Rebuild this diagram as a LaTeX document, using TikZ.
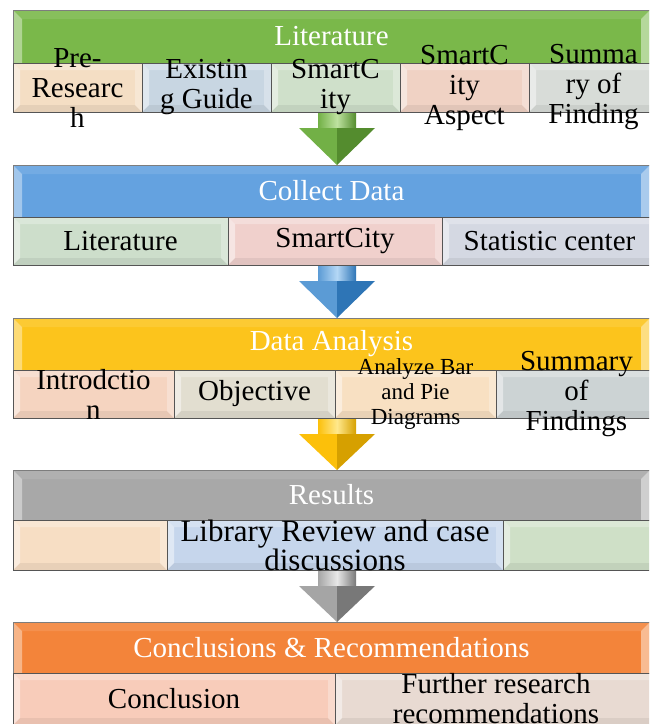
\documentclass[tikz,border=0pt]{standalone}
\usepackage{fontspec}
\setmainfont{Liberation Serif}
\usetikzlibrary{calc}
\pgfdeclarelayer{arrows}
\pgfsetlayers{arrows,main}

% stage bars
\definecolor{barline}{RGB}{125,125,125}
\definecolor{boxline}{RGB}{85,85,85}
\definecolor{litgreen}{RGB}{122,184,74}
\definecolor{colblue}{RGB}{100,162,224}
\definecolor{anayellow}{RGB}{252,196,28}
\definecolor{resgray}{RGB}{168,168,168}
\definecolor{conorange}{RGB}{243,132,58}
% part boxes
\definecolor{ptan}{RGB}{244,222,196}
\definecolor{pbluegray}{RGB}{200,214,226}
\definecolor{pgreen}{RGB}{207,224,202}
\definecolor{ppink}{RGB}{240,210,196}
\definecolor{pgray}{RGB}{216,220,216}
\definecolor{pgreenb}{RGB}{205,222,203}
\definecolor{prose}{RGB}{240,208,204}
\definecolor{plavender}{RGB}{212,216,226}
\definecolor{ppeach}{RGB}{245,212,192}
\definecolor{pbeige}{RGB}{226,222,208}
\definecolor{papricot}{RGB}{248,224,194}
\definecolor{pslate}{RGB}{204,211,212}
\definecolor{psand}{RGB}{247,222,196}
\definecolor{psky}{RGB}{198,214,236}
\definecolor{psage}{RGB}{207,224,199}
\definecolor{psalmon}{RGB}{248,204,186}
\definecolor{ptaupe}{RGB}{232,218,210}
% arrows
\definecolor{gdark}{RGB}{84,140,46}
\definecolor{gmid}{RGB}{114,176,70}
\definecolor{glight}{RGB}{190,226,160}
\definecolor{bdark}{RGB}{46,117,182}
\definecolor{bmid}{RGB}{91,155,213}
\definecolor{blight}{RGB}{180,215,245}
\definecolor{ydark}{RGB}{214,160,0}
\definecolor{ymid}{RGB}{252,192,10}
\definecolor{ylight}{RGB}{255,232,140}
\definecolor{adark}{RGB}{120,120,120}
\definecolor{amid}{RGB}{165,165,165}
\definecolor{alight}{RGB}{232,232,232}

% bevel facets of a part box
\newcommand{\boxfacets}[1]{%
  \coordinate (fsw) at (path picture bounding box.south west);
  \coordinate (fne) at (path picture bounding box.north east);
  \fill[white,opacity=.28] let \p1=(fsw),\p2=(fne) in
    (\x1,\y2) -- (\x2,\y2) -- ({\x2-#1},{\y2-#1}) -- ({\x1+#1},{\y2-#1}) -- cycle;
  \fill[white,opacity=.45] let \p1=(fsw),\p2=(fne) in
    (\x1,\y1) -- ({\x1+#1},{\y1+#1}) -- ({\x1+#1},{\y2-#1}) -- (\x1,\y2) -- cycle;
  \fill[white,opacity=.28] let \p1=(fsw),\p2=(fne) in
    (\x2,\y1) -- ({\x2-#1},{\y1+#1}) -- ({\x2-#1},{\y2-#1}) -- (\x2,\y2) -- cycle;
  \fill[black,opacity=.06] let \p1=(fsw),\p2=(fne) in
    (\x1,\y1) -- (\x2,\y1) -- ({\x2-#1},{\y1+#1}) -- ({\x1+#1},{\y1+#1}) -- cycle;
}
% bevel facets of a stage bar
\newcommand{\barfacets}[1]{%
  \coordinate (fsw) at (path picture bounding box.south west);
  \coordinate (fne) at (path picture bounding box.north east);
  \fill[white,opacity=.10] let \p1=(fsw),\p2=(fne) in
    (\x1,\y2) -- (\x2,\y2) -- ({\x2-#1},{\y2-#1}) -- ({\x1+#1},{\y2-#1}) -- cycle;
  \fill[white,opacity=.40] let \p1=(fsw),\p2=(fne) in
    (\x1,\y1) -- ({\x1+#1},\y1) -- ({\x1+#1},{\y2-#1}) -- (\x1,\y2) -- cycle;
  \fill[white,opacity=.45] let \p1=(fsw),\p2=(fne) in
    (\x2,\y1) -- ({\x2-#1},\y1) -- ({\x2-#1},{\y2-#1}) -- (\x2,\y2) -- cycle;
}
% block arrow: #1 start, #2 tip, #3 dark, #4 mid, #5 light
\newcommand{\flowarrow}[5]{%
  \shade[left color=#4, right color=#3, middle color=#5] let \p1=(#1) in
    ({\x1-19pt},\y1) rectangle ({\x1+19pt},{\y1-17pt});
  \fill[#4] let \p1=(#1), \p2=(#2) in
    ({\x1-38pt},{\y1-16pt}) -- (\x1,{\y1-16pt}) -- (\x1,\y2) -- cycle;
  \fill[#3] let \p1=(#1), \p2=(#2) in
    ({\x1+38pt},{\y1-16pt}) -- (\x1,{\y1-16pt}) -- (\x1,\y2) -- cycle;
}

\tikzset{
  stage/.style={fill=#1, draw=barline, line width=0.8pt, anchor=north west,
    inner sep=0pt, outer sep=0pt, minimum width=637pt, minimum height=52pt,
    text=white, font=\fontsize{29}{30}\selectfont, path picture={\barfacets{9pt}}},
  part/.style={fill=#1, draw=boxline, line width=0.8pt, anchor=north west,
    inner sep=0pt, outer sep=0pt, minimum height=48pt, path picture={\boxfacets{7pt}}},
  partlabel/.style={align=center, inner sep=0pt, font=\fontsize{29}{30}\selectfont},
}

\begin{document}
\begin{tikzpicture}[x=1pt,y=-1pt]
\useasboundingbox (0,0) rectangle (649,724);
\clip (0,0) rectangle (649,724);

% Literature
\node[stage=litgreen, minimum height=53pt] (lit) at (13,10) {Literature};
\node[part=ptan,      minimum width=129pt, minimum height=49pt] (lit1) at (13,63) {};
\node[part=pbluegray, minimum width=129pt, minimum height=49pt] (lit2) at (142,63) {};
\node[part=pgreen,    minimum width=129pt, minimum height=49pt] (lit3) at (271,63) {};
\node[part=ppink,     minimum width=129pt, minimum height=49pt] (lit4) at (400,63) {};
\node[part=pgray,     minimum width=129pt, minimum height=49pt] (lit5) at (529,63) {};
\node[partlabel] (lit1t) at (lit1.center) {Pre-\\Researc\\h};
\node[partlabel] (lit2t) at (lit2.center) {Existin\\g Guide};
\node[partlabel] (lit3t) at (lit3.center) {SmartC\\ity};
\node[partlabel] (lit4t) at (lit4.center) {SmartC\\ity\\Aspect};
\node[partlabel] (lit5t) at (lit5.center) {Summa\\ry of\\Finding};

% Collect Data
\node[stage=colblue] (col) at (13,165) {Collect Data};
\node[part=pgreenb,   minimum width=215pt] (col1) at (13,217) {};
\node[part=prose,     minimum width=214pt] (col2) at (228,217) {};
\node[part=plavender, minimum width=215pt] (col3) at (442,217) {};
\node[partlabel] (col1t) at (col1.center) {Literature};
\node[partlabel] (col2t) at (col2.center) {SmartCity};
\node[partlabel] (col3t) at (col3.center) {Statistic center};

% Data Analysis
\node[stage=anayellow] (ana) at (13,318) {Data Analysis};
\node[part=ppeach,   minimum width=161pt] (ana1) at (13,370) {};
\node[part=pbeige,   minimum width=161pt] (ana2) at (174,370) {};
\node[part=papricot, minimum width=161pt] (ana3) at (335,370) {};
\node[part=pslate,   minimum width=161pt] (ana4) at (496,370) {};
\node[partlabel] (ana1t) at (ana1.center) {Introdctio\\n};
\node[partlabel] (ana2t) at (ana2.center) {Objective};
\node[partlabel, font=\fontsize{23}{25}\selectfont] (ana3t) at (ana3.center) {Analyze Bar\\and Pie\\Diagrams};
\node[partlabel] (ana4t) at (ana4.center) {Summary\\of\\Findings};

% Results
\node[stage=resgray, minimum height=50pt] (res) at (13,470) {Results};
\node[part=psand, minimum width=154pt, minimum height=50pt] (res1) at (13,520) {};
\node[part=psky,  minimum width=336pt, minimum height=50pt] (res2) at (167,520) {};
\node[part=psage, minimum width=154pt, minimum height=50pt] (res3) at (503,520) {};
\node[partlabel, font=\fontsize{31}{29}\selectfont] (res2t) at (res2.center) {Library Review and case\\discussions};

% Conclusions & Recommendations
\node[stage=conorange, minimum height=51pt] (con) at (13,622) {Conclusions \& Recommendations};
\node[part=psalmon, minimum width=322pt, minimum height=52pt] (con1) at (13,673) {};
\node[part=ptaupe,  minimum width=322pt, minimum height=52pt] (con2) at (335,673) {};
\node[partlabel] (con1t) at (con1.center) {Conclusion};
\node[partlabel] (con2t) at (con2.center) {Further research\\recommendations};

% arrows between the stages
\coordinate (axis) at (337,0);
\begin{pgfonlayer}{arrows}
  \fill[white] (0,0) rectangle (649,724);
  \flowarrow{axis |- lit1.south}{axis |- col.north}{gdark}{gmid}{glight}
  \flowarrow{axis |- col1.south}{axis |- ana.north}{bdark}{bmid}{blight}
  \flowarrow{axis |- ana1.south}{axis |- res.north}{ydark}{ymid}{ylight}
  \flowarrow{axis |- res1.south}{axis |- con.north}{adark}{amid}{alight}
\end{pgfonlayer}
\end{tikzpicture}
\end{document}
